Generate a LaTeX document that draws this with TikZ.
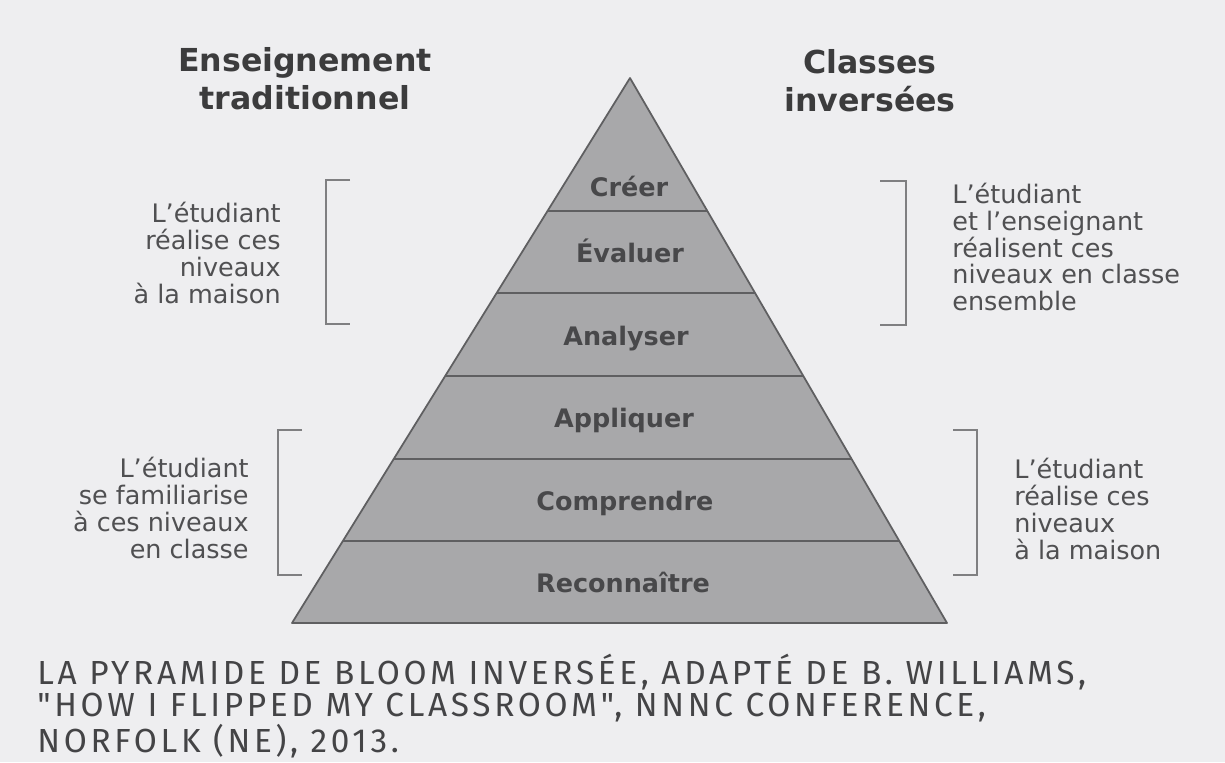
\documentclass[tikz,border=0pt]{standalone}
\usepackage{fontspec}
\setmainfont{DejaVu Sans}
\newfontfamily\capfont[LetterSpace=11]{Fira Sans}
\usetikzlibrary{calc}
\definecolor{paper}{RGB}{238,238,240}
\definecolor{stone}{RGB}{168,168,170}
\definecolor{rule}{RGB}{95,95,97}
\definecolor{ink}{RGB}{80,80,82}

\begin{document}
\begin{tikzpicture}[x=0.02cm, y=-0.02cm]
%Declaration of styles
	\tikzstyle{level} = [font=\bfseries\fontsize{14.5}{16}\selectfont, text=ink!90!black] %style for the pyramid levels
	\tikzstyle{side} = [font=\fontsize{14.5}{15.3}\selectfont, text=ink, inner sep=0pt] %style for the side notes
	\tikzstyle{head} = [font=\bfseries\fontsize{18}{21.5}\selectfont, text=ink!75!black, align=center] %style for the headers
	\tikzstyle{brk} = [draw=rule!80, line width=1.1pt] %style for the brackets
%Background and frame
	\fill[paper] (0,0) rectangle (1225,762);
%Pyramid
	\coordinate (apex) at (630,78);
	\coordinate (baseL) at (292,623);
	\coordinate (baseR) at (947,623);
	\filldraw[fill=stone, draw=rule, line width=1pt, line join=round] (apex) -- (baseL) -- (baseR) -- cycle;
	\foreach \t in {0.244, 0.3945, 0.5468, 0.699, 0.8495}
		\draw[rule, line width=1pt] ($(apex)!\t!(baseL)$) -- ($(apex)!\t!(baseR)$);
%Nodes, the levels
	\node [level] (creer) at (629,186) {Créer};
	\node [level] (evaluer) at (630,251) {Évaluer};
	\node [level] (analyser) at (626,339) {Analyser};
	\node [level] (appliquer) at (624,420) {Appliquer};
	\node [level] (comprendre) at (625,503) {Comprendre};
	\node [level] (reconnaitre) at (623,582) {Reconnaître};
%Headers
	\node [head] (trad) at (305,79) {Enseignement\\traditionnel};
	\node [head] (inv) at (870,81) {Classes\\inversées};
%Brackets
	\draw[brk] (350,180) -- (326,180) -- (326,324) -- (350,324);
	\draw[brk] (302,430) -- (278,430) -- (278,575) -- (302,575);
	\draw[brk] (880,181) -- (906,181) -- (906,325) -- (880,325);
	\draw[brk] (953,430) -- (977,430) -- (977,575) -- (953,575);
%Side notes
	\node [side, align=right, anchor=east] (maisonL) at (281,253) {L'étudiant\\réalise ces\\niveaux\\à la maison};
	\node [side, align=right, anchor=east] (classeL) at (249,508) {L'étudiant\\se familiarise\\à ces niveaux\\en classe};
	\node [side, align=left, anchor=west] (classeR) at (952,247) {L'étudiant\\et l'enseignant\\réalisent ces\\niveaux en classe\\ensemble};
	\node [side, align=left, anchor=west] (maisonR) at (1014,509) {L'étudiant\\réalise ces\\niveaux\\à la maison};
%Caption
	\node [anchor=west, align=left, inner sep=0pt, text=ink!85!black, font=\capfont\fontsize{19}{18.5}\selectfont] (caption) at (37,706) {LA PYRAMIDE DE BLOOM INVERSÉE, ADAPTÉ DE B. WILLIAMS,\\ "HOW I FLIPPED MY CLASSROOM", NNNC CONFERENCE,\\ NORFOLK (NE), 2013.};
\end{tikzpicture}
\end{document}
